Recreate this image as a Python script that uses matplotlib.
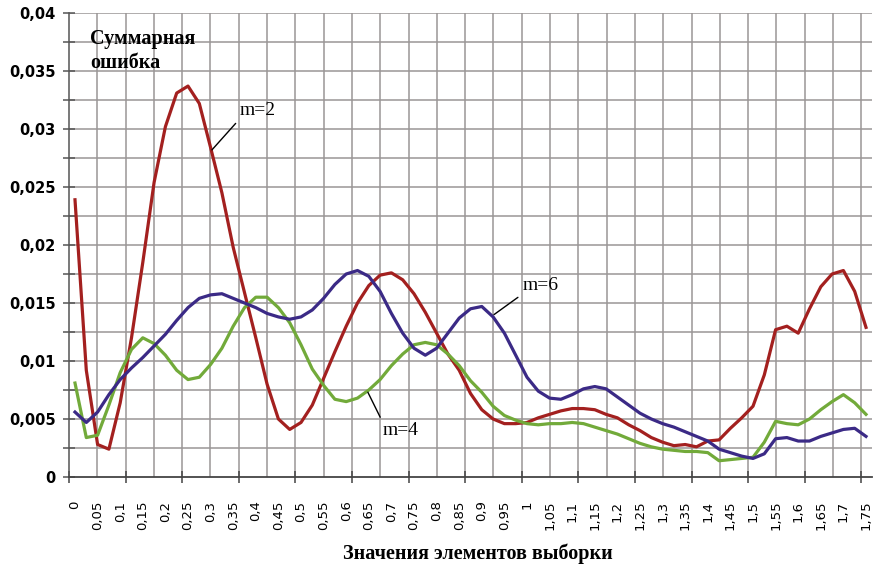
import numpy as np
import matplotlib.pyplot as plt
from matplotlib.ticker import FixedLocator

# sample values: 0 .. 1.75 step 0.025 (71 points)
x_vals = np.round(np.arange(71) * 0.025, 3)

err_m2 = [0.0239, 0.0092, 0.0028, 0.0024, 0.0064, 0.0120, 0.0185, 0.0254, 0.0302, 0.0331,
          0.0337, 0.0322, 0.0284, 0.0245, 0.0198, 0.0159, 0.0120, 0.0080, 0.0050, 0.0041,
          0.0047, 0.0062, 0.0085, 0.0108, 0.0130, 0.0150, 0.0165, 0.0174, 0.0176, 0.0170,
          0.0158, 0.0142, 0.0124, 0.0106, 0.0092, 0.0072, 0.0058, 0.0050, 0.0046, 0.0046,
          0.0047, 0.0051, 0.0054, 0.0057, 0.0059, 0.0059, 0.0058, 0.0054, 0.0051, 0.0045,
          0.0040, 0.0034, 0.0030, 0.0027, 0.0028, 0.0026, 0.0031, 0.0032, 0.0042, 0.0051,
          0.0061, 0.0088, 0.0127, 0.0130, 0.0124, 0.0145, 0.0164, 0.0175, 0.0178, 0.0160,
          0.0129]

err_m4 = [0.0081, 0.0034, 0.0036, 0.0062, 0.0090, 0.0110, 0.0120, 0.0115, 0.0105, 0.0092,
          0.0084, 0.0086, 0.0097, 0.0111, 0.0130, 0.0146, 0.0155, 0.0155, 0.0146, 0.0133,
          0.0114, 0.0093, 0.0079, 0.0067, 0.0065, 0.0068, 0.0075, 0.0084, 0.0096, 0.0106,
          0.0114, 0.0116, 0.0114, 0.0106, 0.0096, 0.0083, 0.0073, 0.0061, 0.0053, 0.0049,
          0.0046, 0.0045, 0.0046, 0.0046, 0.0047, 0.0046, 0.0043, 0.0040, 0.0037, 0.0033,
          0.0029, 0.0026, 0.0024, 0.0023, 0.0022, 0.0022, 0.0021, 0.0014, 0.0015, 0.0016,
          0.0017, 0.0030, 0.0048, 0.0046, 0.0045, 0.0050, 0.0058, 0.0065, 0.0071, 0.0064,
          0.0054]

err_m6 = [0.0056, 0.0047, 0.0056, 0.0071, 0.0084, 0.0094, 0.0103, 0.0113, 0.0123, 0.0135,
          0.0146, 0.0154, 0.0157, 0.0158, 0.0154, 0.0150, 0.0146, 0.0141, 0.0138, 0.0136,
          0.0138, 0.0144, 0.0154, 0.0166, 0.0175, 0.0178, 0.0173, 0.0160, 0.0141, 0.0124,
          0.0111, 0.0105, 0.0111, 0.0124, 0.0137, 0.0145, 0.0147, 0.0138, 0.0124, 0.0105,
          0.0086, 0.0074, 0.0068, 0.0067, 0.0071, 0.0076, 0.0078, 0.0076, 0.0069, 0.0062,
          0.0055, 0.0050, 0.0046, 0.0043, 0.0039, 0.0035, 0.0031, 0.0024, 0.0021, 0.0018,
          0.0016, 0.0020, 0.0033, 0.0034, 0.0031, 0.0031, 0.0035, 0.0038, 0.0041, 0.0042,
          0.0035]

tick_vals = np.round(np.arange(36) * 0.05, 2)
y_major = np.round(np.arange(9) * 0.005, 3)
y_minor = np.round(np.arange(17) * 0.0025, 4)


def comma(v):
    s = f"{v:g}"
    return s.replace(".", ",")


fig = plt.figure(figsize=(8.75, 5.7), dpi=100)
ax = fig.add_axes([69 / 875, 1 - 477 / 570, 803 / 875, 464 / 570])

x0, x1 = -6 / 452, 797 / 452
ax.set_xlim(x0, x1)
ax.set_ylim(0, 0.04)

grid_c = "#9a9696"
# graph-paper like vertical grid, independent of the labels
n_v = 28
v_pos = [x0 + j * 28.3 / 803 * (x1 - x0) for j in range(n_v + 1)]
ax.vlines(v_pos[1:], 0, 1, transform=ax.get_xaxis_transform(), colors=grid_c, lw=1.1, zorder=1)
for yv in y_minor[1:]:
    ax.axhline(yv, color=grid_c, lw=1.1, zorder=1)

ax.plot(x_vals, err_m2, color="#a3201f", lw=2.3, zorder=3)
ax.plot(x_vals, err_m4, color="#72aa3a", lw=2.3, zorder=3)
ax.plot(x_vals, err_m6, color="#3b2a86", lw=2.3, zorder=4)

for s in ["top", "right"]:
    ax.spines[s].set_visible(False)
ax.spines["left"].set_color("#555555")
ax.spines["bottom"].set_color("#444444")
ax.spines["left"].set_linewidth(1.1)
ax.spines["bottom"].set_linewidth(1.3)

ax.set_xticks(tick_vals)
ax.set_xticklabels([comma(v) for v in tick_vals], rotation=90, fontsize=9.5,
                   family="DejaVu Sans", va="top")
ax.tick_params(axis="x", which="major", length=0, pad=17)
ax.xaxis.set_minor_locator(FixedLocator(v_pos[::2]))
ax.tick_params(axis="x", which="minor", length=8, direction="inout", color="#444444", width=1.1)

ax.set_yticks(y_major)
ax.set_yticklabels([comma(v) for v in y_major], fontsize=10.5, fontweight="bold",
                   family="DejaVu Sans")
ax.yaxis.set_minor_locator(FixedLocator(y_minor))
ax.tick_params(axis="y", which="both", length=9, direction="inout", color="#555555",
               width=1.1, pad=5)

serif = ["Liberation Serif", "DejaVu Serif"]
ax.text(90 / 875, 1 - 29 / 570, "Суммарная\nошибка", transform=fig.transFigure,
        ha="left", va="top", fontsize=14.5, fontweight="bold", family=serif,
        linespacing=1.3, zorder=5)
fig.text(478 / 875, 1 - 554 / 570, "Значения элементов выборки", ha="center", va="center",
         fontsize=14.5, fontweight="bold", family=serif)

arrow = dict(arrowstyle="-", color="black", lw=1.0, shrinkA=2, shrinkB=0)
ax.annotate("m=2", xy=(0.303, 0.0282), xytext=(0.365, 0.0309), ha="left", va="bottom",
            fontsize=14, family=serif, arrowprops={**arrow, "relpos": (0, 0)})
ax.annotate("m=6", xy=(0.927, 0.0140), xytext=(0.991, 0.0158), ha="left", va="bottom",
            fontsize=14, family=serif, arrowprops={**arrow, "relpos": (0, 0)})
ax.annotate("m=4", xy=(0.648, 0.0073), xytext=(0.681, 0.0047), ha="left", va="top",
            fontsize=14, family=serif, arrowprops={**arrow, "relpos": (0, 1)})

plt.savefig("out.png", dpi=100)
